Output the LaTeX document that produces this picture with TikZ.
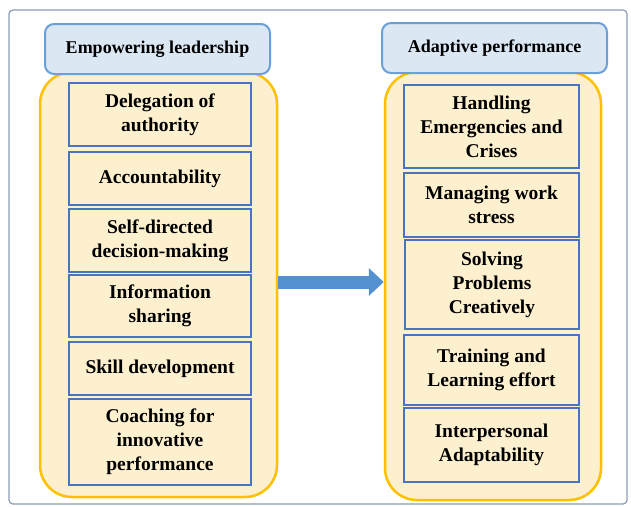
\documentclass[tikz,border=0pt]{standalone}
\usepackage{fontspec}
\setmainfont{Liberation Serif}
\usetikzlibrary{arrows.meta}
\definecolor{hdfill}{HTML}{DCE7F4}
\definecolor{hdline}{HTML}{6A9FD8}
\definecolor{pnfill}{HTML}{FDF0CF}
\definecolor{pnline}{HTML}{FFC000}
\definecolor{itline}{HTML}{4A74C2}
\definecolor{flowc}{HTML}{5290D0}
\definecolor{frame}{HTML}{8A9DB5}
\tikzset{
  header/.style={draw=hdline, fill=hdfill, line width=2pt, rounded corners=9pt,
    minimum width=225pt, minimum height=50pt, font=\fontsize{18}{22}\selectfont\bfseries},
  panel/.style={draw=pnline, fill=pnfill, line width=2.5pt, rounded corners=32pt},
  item/.style={draw=itline, fill=pnfill, line width=2.8pt, align=center, inner sep=0pt,
    font=\fontsize{19.5}{24}\selectfont\bfseries},
  flow/.style={draw=flowc, line width=13pt, -{Triangle[length=15pt, width=27pt]}}
}
\begin{document}
\begin{tikzpicture}[x=1pt, y=-1pt]
    \useasboundingbox (0,0) rectangle (631,506);
    \draw[frame, line width=1.2pt, rounded corners=4pt] (9,10) rectangle (627,504);
    \node[panel, minimum width=237pt, minimum height=425pt] (lpanel) at (158.5,284.5) {};
    \node[panel, minimum width=216pt, minimum height=428pt] (rpanel) at (493,286) {};
    \node[header] (lhead) at (157.5,49) {Empowering leadership};
    \node[header] (rhead) at (494.5,48) {Adaptive performance};
    \node[item, minimum width=182pt, minimum height=63pt] (l1) at (160,114.5) {Delegation of\\authority};
    \node[item, minimum width=182pt, minimum height=53pt] (l2) at (160,178.5) {Accountability};
    \node[item, minimum width=182pt, minimum height=63pt] (l3) at (160,240.5) {Self-directed\\decision-making};
    \node[item, minimum width=182pt, minimum height=62pt] (l4) at (160,306) {Information\\sharing};
    \node[item, minimum width=182pt, minimum height=53pt] (l5) at (160,368.5) {Skill development};
    \node[item, minimum width=182pt, minimum height=86pt] (l6) at (160,442) {Coaching for\\innovative\\performance};
    \node[item, minimum width=175pt, minimum height=83pt] (r1) at (491.5,126.5) {Handling\\Emergencies and\\Crises};
    \node[item, minimum width=175pt, minimum height=64pt] (r2) at (491.5,205) {Managing work\\stress};
    \node[item, minimum width=174pt, minimum height=89pt] (r3) at (492,284.5) {Solving\\Problems\\Creatively};
    \node[item, minimum width=175pt, minimum height=70pt] (r4) at (491.5,370) {Training and\\Learning effort};
    \node[item, minimum width=175pt, minimum height=74pt] (r5) at (491.5,445) {Interpersonal\\Adaptability};
    \coordinate (mid) at (0,282);
    \draw[flow] (lpanel.east |- mid) -- (rpanel.west |- mid);
\end{tikzpicture}
\end{document}
